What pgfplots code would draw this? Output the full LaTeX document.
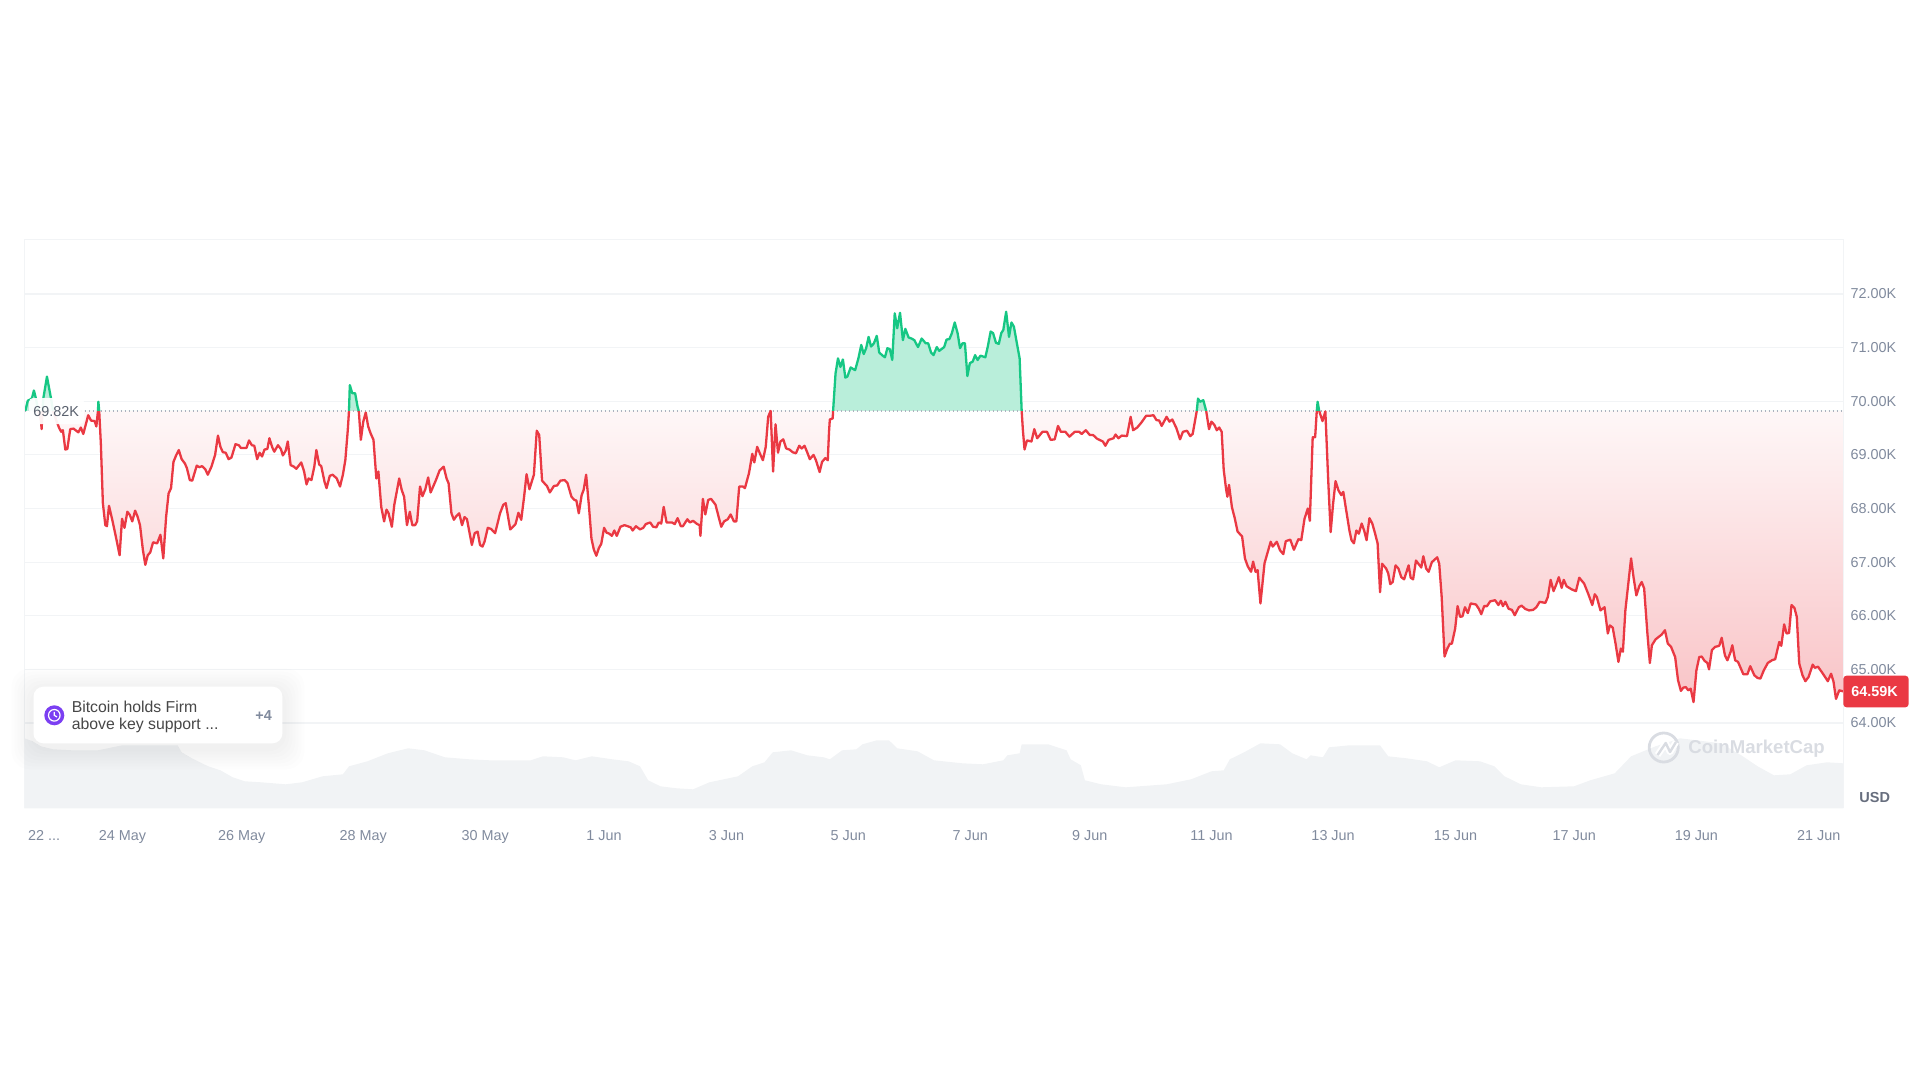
\documentclass[border=0pt]{standalone}
\usepackage{pgfplots}
\usepackage{pgfplotstable}
\usepackage{fontspec}
\setmainfont{Liberation Sans}
\pgfplotsset{compat=1.18}
\definecolor{gridc}{HTML}{F2F4F6}
\definecolor{tickc}{HTML}{808A9D}
\definecolor{upc}{HTML}{16C784}
\definecolor{downc}{HTML}{EA3943}
\definecolor{volc}{HTML}{F1F3F5}
\definecolor{newsc}{HTML}{7B3FF2}
\newcommand{\truncated}{22 ...}
\pgfplotstableread[row sep=\\]{t p\\
62 69.82\\ 68 70.01\\ 78 70.05\\ 83 70.20\\ 88 70.05\\ 94 69.82\\ 100 69.65\\ 102 69.48\\ 104 69.82\\ 106 70.05\\ 115 70.46\\ 125 70.05\\ 130 69.82\\ 138 69.64\\ 145 69.50\\ 150 69.43\\ 154 69.46\\ 160 69.10\\ 165 69.11\\ 172 69.48\\ 180 69.49\\ 192 69.42\\ 198 69.51\\ 204 69.39\\ 212 69.62\\ 216 69.74\\ 223 69.64\\ 232 69.63\\ 236 69.53\\ 240 69.82\\ 241 69.99\\ 243 69.82\\ 247 69.22\\ 252 68.10\\ 258 67.69\\ 262 67.67\\ 267 68.05\\ 275 67.79\\ 282 67.54\\ 288 67.32\\ 293 67.13\\ 299 67.81\\ 305 67.64\\ 312 67.94\\ 318 67.88\\ 324 67.76\\ 331 67.96\\ 337 67.85\\ 343 67.69\\ 350 67.23\\ 356 66.95\\ 362 67.13\\ 368 67.18\\ 375 67.37\\ 385 67.35\\ 393 67.51\\ 400 67.07\\ 407 67.85\\ 413 68.28\\ 419 68.38\\ 425 68.87\\ 432 69.00\\ 438 69.09\\ 445 68.92\\ 453 68.84\\ 458 68.75\\ 465 68.53\\ 471 68.52\\ 482 68.80\\ 488 68.77\\ 495 68.79\\ 503 68.73\\ 509 68.63\\ 518 68.78\\ 527 69.00\\ 534 69.36\\ 540 69.15\\ 546 69.05\\ 553 69.04\\ 560 68.92\\ 567 68.95\\ 577 69.20\\ 585 69.18\\ 590 69.13\\ 604 69.13\\ 610 69.27\\ 617 69.18\\ 623 69.17\\ 630 68.92\\ 636 69.04\\ 642 68.97\\ 648 69.10\\ 655 69.11\\ 660 69.31\\ 667 69.14\\ 672 69.06\\ 681 69.18\\ 688 69.11\\ 693 68.99\\ 700 69.08\\ 705 69.25\\ 712 68.81\\ 720 68.78\\ 726 68.74\\ 738 68.86\\ 745 68.69\\ 751 68.45\\ 756 68.56\\ 763 68.53\\ 770 68.78\\ 775 69.09\\ 782 68.82\\ 787 68.79\\ 795 68.50\\ 800 68.38\\ 808 68.61\\ 815 68.63\\ 825 68.56\\ 833 68.41\\ 840 68.63\\ 846 68.90\\ 852 69.46\\ 855 69.82\\ 857 70.30\\ 863 70.15\\ 870 70.15\\ 876 69.90\\ 879 69.82\\ 884 69.28\\ 890 69.62\\ 896 69.79\\ 902 69.53\\ 908 69.40\\ 915 69.28\\ 922 68.56\\ 927 68.69\\ 934 68.03\\ 941 67.76\\ 947 67.98\\ 952 67.91\\ 960 67.66\\ 966 68.07\\ 978 68.56\\ 984 68.35\\ 990 68.22\\ 997 67.69\\ 1004 67.94\\ 1010 67.69\\ 1017 67.69\\ 1022 67.76\\ 1029 68.41\\ 1035 68.23\\ 1042 68.36\\ 1049 68.58\\ 1055 68.30\\ 1068 68.53\\ 1077 68.71\\ 1087 68.78\\ 1094 68.56\\ 1099 68.47\\ 1106 67.91\\ 1112 67.79\\ 1118 67.86\\ 1125 67.91\\ 1132 67.69\\ 1138 67.84\\ 1144 67.80\\ 1156 67.32\\ 1163 67.54\\ 1170 67.57\\ 1176 67.32\\ 1182 67.29\\ 1187 67.38\\ 1195 67.64\\ 1203 67.62\\ 1213 67.54\\ 1225 67.91\\ 1233 68.07\\ 1239 68.10\\ 1250 67.61\\ 1258 67.67\\ 1263 67.71\\ 1270 67.92\\ 1277 67.79\\ 1284 68.22\\ 1290 68.64\\ 1297 68.36\\ 1308 68.63\\ 1315 69.45\\ 1321 69.37\\ 1328 68.52\\ 1335 68.46\\ 1340 68.42\\ 1347 68.30\\ 1357 68.42\\ 1365 68.43\\ 1373 68.52\\ 1383 68.53\\ 1390 68.48\\ 1400 68.22\\ 1407 68.16\\ 1412 68.15\\ 1418 67.91\\ 1425 68.25\\ 1430 68.35\\ 1436 68.63\\ 1443 68.03\\ 1449 67.44\\ 1455 67.23\\ 1461 67.12\\ 1467 67.26\\ 1473 67.34\\ 1480 67.64\\ 1486 67.55\\ 1493 67.53\\ 1499 67.49\\ 1505 67.59\\ 1511 67.49\\ 1520 67.66\\ 1530 67.69\\ 1545 67.65\\ 1550 67.59\\ 1558 67.67\\
1568 67.61\\ 1576 67.64\\ 1582 67.71\\ 1593 67.74\\ 1600 67.66\\ 1608 67.65\\ 1614 67.74\\ 1620 67.72\\ 1626 68.03\\ 1633 67.74\\ 1646 67.74\\ 1653 67.71\\ 1660 67.82\\ 1668 67.67\\ 1673 67.67\\ 1684 67.80\\ 1690 67.74\\ 1698 67.77\\ 1708 67.71\\ 1714 67.69\\ 1716 67.49\\ 1722 68.18\\ 1728 67.89\\ 1735 68.16\\ 1742 68.18\\ 1753 68.07\\ 1760 67.86\\ 1767 67.66\\ 1774 67.76\\ 1783 67.80\\ 1790 67.89\\ 1798 67.76\\ 1804 67.76\\ 1811 68.41\\ 1820 68.41\\ 1825 68.38\\ 1835 68.66\\ 1843 69.02\\ 1848 68.86\\ 1855 69.15\\ 1862 69.02\\ 1869 68.90\\ 1876 69.15\\ 1882 69.71\\ 1888 69.82\\ 1894 68.69\\ 1900 69.57\\ 1906 69.04\\ 1912 69.25\\ 1919 69.29\\ 1926 69.12\\ 1934 69.10\\ 1942 69.05\\ 1950 69.03\\ 1958 69.17\\ 1964 69.12\\ 1971 69.17\\ 1978 69.04\\ 1984 68.92\\ 1993 69.00\\ 1999 68.90\\ 2008 68.68\\ 2014 68.87\\ 2022 68.94\\ 2028 68.90\\ 2031 69.43\\ 2033 69.66\\ 2040 69.68\\ 2041 69.82\\
2047 70.52\\ 2053 70.80\\ 2059 70.64\\ 2065 70.78\\ 2071 70.44\\ 2076 70.46\\ 2084 70.63\\ 2095 70.58\\ 2103 70.80\\ 2110 71.05\\ 2116 70.88\\ 2122 70.99\\ 2128 71.20\\ 2134 71.02\\ 2141 71.08\\ 2148 71.22\\ 2154 70.91\\ 2161 70.86\\ 2168 70.82\\ 2174 70.99\\ 2180 70.97\\ 2186 70.77\\ 2192 71.64\\ 2198 71.36\\ 2205 71.65\\ 2212 71.14\\ 2218 71.35\\ 2226 71.19\\ 2233 71.17\\ 2240 71.14\\ 2249 71.01\\ 2258 71.17\\ 2268 71.08\\ 2274 71.08\\ 2281 70.91\\ 2287 70.86\\ 2295 71.01\\ 2301 70.94\\ 2313 71.01\\ 2319 71.15\\ 2326 71.16\\ 2332 71.27\\ 2339 71.47\\ 2346 71.27\\ 2352 70.99\\ 2358 71.08\\ 2364 71.08\\ 2370 70.47\\ 2376 70.71\\ 2383 70.74\\ 2389 70.86\\ 2395 70.77\\ 2402 70.85\\ 2414 70.82\\ 2420 71.02\\ 2427 71.30\\ 2433 71.27\\ 2440 71.09\\ 2447 71.07\\ 2453 71.27\\ 2458 71.33\\ 2465 71.67\\ 2472 71.20\\ 2478 71.47\\ 2484 71.39\\ 2492 71.05\\ 2498 70.80\\ 2503 69.82\\
2506 69.46\\ 2510 69.10\\ 2516 69.27\\ 2527 69.25\\ 2534 69.48\\ 2541 69.31\\ 2554 69.43\\ 2565 69.43\\ 2574 69.28\\ 2584 69.29\\ 2592 69.54\\ 2599 69.43\\ 2610 69.43\\ 2620 69.34\\ 2633 69.43\\ 2644 69.43\\ 2650 69.39\\ 2660 69.46\\ 2670 69.37\\ 2678 69.37\\ 2688 69.30\\ 2702 69.25\\ 2708 69.17\\ 2716 69.28\\ 2728 69.31\\ 2733 69.38\\ 2740 69.31\\ 2748 69.36\\ 2761 69.35\\ 2770 69.71\\ 2776 69.46\\ 2786 69.51\\ 2796 69.60\\ 2808 69.73\\ 2818 69.73\\ 2826 69.74\\ 2833 69.65\\ 2840 69.64\\ 2846 69.54\\ 2858 69.71\\ 2865 69.62\\ 2872 69.66\\ 2882 69.50\\ 2891 69.29\\ 2898 69.43\\ 2908 69.45\\ 2916 69.35\\ 2922 69.39\\ 2928 69.65\\ 2932 69.82\\ 2935 70.05\\ 2940 69.99\\ 2948 70.02\\ 2955 69.82\\ 2962 69.48\\ 2968 69.62\\ 2975 69.56\\ 2981 69.46\\ 2987 69.51\\ 2993 69.43\\ 2998 68.72\\ 3004 68.35\\ 3007 68.22\\ 3011 68.44\\ 3018 68.03\\ 3025 67.82\\ 3032 67.57\\ 3043 67.48\\ 3050 67.07\\ 3057 66.92\\ 3065 66.82\\ 3070 67.01\\ 3076 66.82\\ 3081 66.85\\ 3088 66.23\\ 3098 66.98\\ 3113 67.38\\ 3118 67.29\\ 3128 67.38\\
3136 67.22\\ 3144 67.15\\ 3150 67.39\\ 3161 67.42\\ 3170 67.23\\ 3181 67.43\\ 3188 67.41\\ 3196 67.81\\ 3204 68.00\\ 3209 67.77\\ 3216 69.33\\ 3222 69.33\\ 3226 69.82\\ 3228 69.99\\ 3232 69.82\\ 3234 69.77\\ 3240 69.63\\ 3247 69.81\\ 3254 68.53\\ 3260 67.56\\ 3266 68.09\\ 3272 68.51\\ 3279 68.34\\ 3286 68.25\\ 3291 68.31\\ 3298 67.97\\ 3306 67.59\\ 3311 67.41\\ 3317 67.35\\ 3323 67.59\\ 3329 67.53\\ 3336 67.72\\ 3342 67.59\\ 3348 67.41\\ 3355 67.82\\ 3362 67.72\\ 3369 67.53\\ 3375 67.35\\ 3381 66.44\\ 3386 66.97\\ 3396 66.88\\ 3401 66.79\\ 3406 66.59\\ 3412 66.63\\ 3419 66.94\\ 3426 66.88\\ 3433 66.72\\ 3440 66.68\\ 3451 66.94\\ 3456 66.71\\ 3462 66.68\\ 3469 67.03\\ 3476 66.96\\ 3482 66.90\\ 3487 67.11\\ 3494 66.88\\ 3500 66.82\\ 3508 67.00\\ 3521 67.09\\ 3526 66.97\\ 3532 66.35\\ 3539 65.24\\ 3546 65.39\\ 3552 65.48\\ 3557 65.48\\ 3565 65.76\\ 3571 66.18\\ 3577 65.98\\ 3583 65.99\\ 3589 66.16\\ 3596 66.05\\ 3603 66.23\\ 3616 66.21\\ 3623 66.13\\ 3629 66.03\\ 3636 66.18\\ 3643 66.18\\ 3651 66.27\\ 3663 66.29\\ 3671 66.20\\ 3677 66.28\\ 3682 66.18\\ 3688 66.26\\ 3696 66.13\\ 3704 66.11\\ 3711 66.01\\ 3721 66.16\\ 3728 66.19\\ 3736 66.13\\ 3746 66.10\\ 3756 66.11\\ 3764 66.16\\ 3772 66.26\\ 3786 66.24\\ 3792 66.35\\ 3799 66.67\\ 3806 66.46\\ 3812 66.57\\ 3819 66.72\\ 3826 66.52\\ 3831 66.67\\ 3838 66.55\\ 3851 66.49\\ 3861 66.46\\ 3869 66.71\\ 3881 66.60\\ 3891 66.41\\ 3901 66.20\\ 3907 66.40\\ 3912 66.35\\ 3921 66.10\\ 3931 66.16\\ 3939 65.67\\ 3944 65.82\\ 3951 65.78\\ 3958 65.48\\ 3965 65.14\\ 3971 65.39\\ 3976 65.33\\ 3982 66.10\\ 3996 67.07\\ 4002 66.72\\ 4009 66.38\\ 4016 66.55\\ 4022 66.63\\ 4028 66.51\\ 4036 65.67\\ 4042 65.12\\ 4047 65.45\\ 4056 65.56\\ 4071 65.65\\ 4079 65.73\\ 4086 65.48\\ 4094 65.42\\ 4104 65.23\\ 4111 64.80\\ 4118 64.60\\ 4124 64.66\\ 4130 64.67\\ 4136 64.61\\ 4142 64.64\\ 4149 64.39\\ 4156 64.98\\ 4163 65.23\\ 4169 65.24\\ 4176 65.16\\ 4183 65.12\\ 4187 65.00\\ 4194 65.36\\ 4202 65.42\\ 4212 65.44\\ 4218 65.59\\ 4226 65.26\\ 4232 65.17\\ 4240 65.33\\ 4244 65.45\\ 4251 65.17\\ 4258 65.14\\ 4271 64.91\\ 4281 64.91\\ 4288 65.06\\ 4298 64.89\\ 4306 64.84\\ 4313 64.83\\ 4321 64.98\\ 4331 65.12\\ 4341 65.17\\ 4349 65.19\\ 4359 65.51\\ 4364 65.44\\ 4371 65.84\\ 4377 65.67\\ 4383 65.68\\ 4389 66.20\\ 4396 66.15\\ 4402 65.98\\ 4408 65.11\\ 4416 64.89\\ 4423 64.78\\ 4431 64.86\\ 4441 65.09\\ 4446 65.03\\ 4454 65.05\\ 4466 64.92\\ 4478 64.78\\ 4486 64.92\\ 4492 64.77\\ 4498 64.45\\ 4506 64.61\\ 4516 64.59\\
}\price
\pgfplotstableread[row sep=\\]{t v\\
60 70\\ 80 67\\ 100 62\\ 130 59\\ 175 58\\ 240 58\\ 300 63\\ 435 63\\ 445 56\\ 470 50\\ 510 42\\ 540 38\\ 570 31\\ 600 27\\ 640 26\\ 700 24\\ 740 26\\ 790 32\\ 840 34\\ 855 42\\ 900 47\\ 950 55\\ 1000 60\\ 1040 58\\ 1090 51\\ 1150 49\\ 1200 48\\ 1300 48\\ 1330 52\\ 1380 51\\ 1410 48\\ 1450 52\\ 1500 49\\ 1540 47\\ 1568 42\\ 1588 28\\ 1618 22\\ 1658 20\\ 1698 19\\ 1738 26\\ 1808 32\\ 1843 42\\ 1873 46\\ 1893 56\\ 1938 58\\ 1978 53\\ 2018 51\\ 2033 49\\ 2063 58\\ 2098 59\\ 2113 64\\ 2148 68\\ 2178 68\\ 2198 60\\ 2248 57\\ 2288 48\\ 2358 45\\ 2408 44\\ 2458 48\\ 2468 53\\ 2498 55\\ 2503 64\\ 2568 64\\ 2613 58\\ 2623 49\\ 2648 43\\ 2658 28\\ 2698 24\\ 2758 21\\ 2858 24\\ 2918 29\\ 2968 37\\ 2998 38\\ 3013 49\\ 3048 56\\ 3088 65\\ 3136 64\\ 3166 55\\ 3201 49\\ 3211 53\\ 3241 51\\ 3256 61\\ 3306 63\\ 3381 63\\ 3401 52\\ 3446 50\\ 3496 47\\ 3526 41\\ 3566 48\\ 3626 47\\ 3661 42\\ 3686 32\\ 3726 24\\ 3776 21\\ 3856 22\\ 3896 28\\ 3956 35\\ 3996 52\\ 4056 62\\ 4116 70\\ 4156 68\\ 4216 65\\ 4266 53\\ 4306 42\\ 4346 33\\ 4386 34\\ 4426 43\\ 4476 46\\ 4516 45\\
}\volume
\begin{document}
\begin{tikzpicture}
\path[use as bounding box] (0,0) rectangle (960pt,-540pt);
% volume underlay
\begin{axis}[
  scale only axis, width=909.4pt, height=284.5pt,
  anchor=north west, at={(12.25pt,-119.65pt)},
  xmin=60, xmax=4516, ymin=0, ymax=569,
  axis line style={draw=none}, ticks=none]
\addplot[draw=none, fill=volc] table[x=t,y=v] {\volume} \closedcycle;
\end{axis}
% price
\begin{axis}[
  scale only axis, width=909.4pt, height=284.5pt,
  anchor=north west, at={(12.25pt,-119.65pt)},
  xmin=60, xmax=4516, ymin=62.41, ymax=73.02,
  axis line style={draw=none},
  ymajorgrids, grid style={gridc, line width=0.6pt},
  major tick length=0pt,
  ytick={64,65,66,67,68,69,70,71,72},
  yticklabels={64.00K,65.00K,66.00K,67.00K,68.00K,69.00K,70.00K,71.00K,72.00K},
  yticklabel pos=right,
  yticklabel style={anchor=west, inner sep=0pt, xshift=3.4pt, font=\fontsize{7.2}{8}\selectfont, text=tickc},
  xtick={108,300,592,890,1189,1480,1780,2078,2377,2670,2968,3266,3566,3857,4156,4456},
  xticklabels={\truncated,24 May,26 May,28 May,30 May,1 Jun,3 Jun,5 Jun,7 Jun,9 Jun,11 Jun,13 Jun,15 Jun,17 Jun,19 Jun,21 Jun},
  xticklabel style={inner sep=0pt, yshift=-11pt, font=\fontsize{7.2}{8}\selectfont, text=tickc},
  unbounded coords=jump, clip=true]
\addplot[draw=none, fill=upc!30!white] table[x=t, y expr={max(\thisrow{p},69.82)}] {\price} -- (axis cs:4516,69.82) -- cycle;
\addplot[draw=none, top color=downc!4!white, middle color=downc!12!white, bottom color=downc!30!white] table[x=t, y expr={min(\thisrow{p},69.82)}] {\price} -- (axis cs:4516,69.82) -- cycle;
\addplot[color=tickc!65!white, line width=0.6pt, dash pattern=on 0.6pt off 1.4pt] coordinates {(60,69.82) (4516,69.82)};
\addplot[color=downc, line width=1.15pt, line join=round, restrict y to domain=60:69.8205] table[x=t,y=p] {\price};
\addplot[color=upc, line width=1.15pt, line join=round, restrict y to domain=69.8195:75] table[x=t,y=p] {\price};
\end{axis}
\begin{scope}[x=0.5pt,y=-0.5pt]
% frame
\draw[gridc, line width=0.6pt] (24.5,808.3) -- (24.5,239.3) -- (1843.3,239.3) -- (1843.3,808.3);
% base-price label
\fill[white, opacity=0.93, rounded corners=2pt] (29,398) rectangle (84,424);
\node[anchor=west, inner sep=0pt, text=tickc!70!black, font=\fontsize{7.2}{8}\selectfont] at (33,412) {69.82K};
% watermark
\draw[tickc!30!white, line width=1.4pt] (1663.7,747.5) circle (14.5);
\draw[white, line width=3.2pt, line join=round] (1657.6,755) -- (1665.7,743) -- (1670,752) -- (1676,742);
\draw[tickc!30!white, line width=1.2pt, line join=round] (1657.6,755) -- (1665.7,743) -- (1670,752) -- (1676,742);
\node[anchor=west, inner sep=0pt, text=tickc!30!white, font=\fontsize{9.3}{10}\selectfont\bfseries] at (1688,749) {CoinMarketCap};
% news box
\foreach \s in {22,19,16,13,10,7,4}
  \fill[black, opacity=0.007, rounded corners=9pt] (33.5-\s,686.7-\s+4) rectangle (282.4+\s,743.3+\s+4);
\fill[white, rounded corners=5pt] (33.5,686.7) rectangle (282.4,743.3);
\fill[newsc] (54.3,715.3) circle (10);
\draw[white, line width=0.6pt] (54.3,715.3) circle (5.8);
\draw[white, line width=0.6pt] (54.3,711.8) -- (54.3,715.3) -- (57,717);
\node[anchor=west, inner sep=0pt, text=black!72, font=\fontsize{7.9}{9}\selectfont] at (71.4,706.7) {Bitcoin holds Firm};
\node[anchor=west, inner sep=0pt, text=black!72, font=\fontsize{7.9}{9}\selectfont] at (71.4,725.7) {above key support ...};
\node[inner sep=0pt, text=tickc, font=\fontsize{7.2}{8}\selectfont\bfseries] at (263.7,715.3) {+4};
% last-price tag
\fill[downc, rounded corners=1.6pt] (1843.3,675.7) rectangle (1908.6,707.3);
\node[inner sep=0pt, text=white, font=\fontsize{7.2}{8}\selectfont\bfseries] at (1874.5,692) {64.59K};
\node[inner sep=0pt, text=tickc!80!black, font=\fontsize{7.25}{8}\selectfont\bfseries] at (1874.7,797.3) {USD};
\end{scope}
\end{tikzpicture}
\end{document}
